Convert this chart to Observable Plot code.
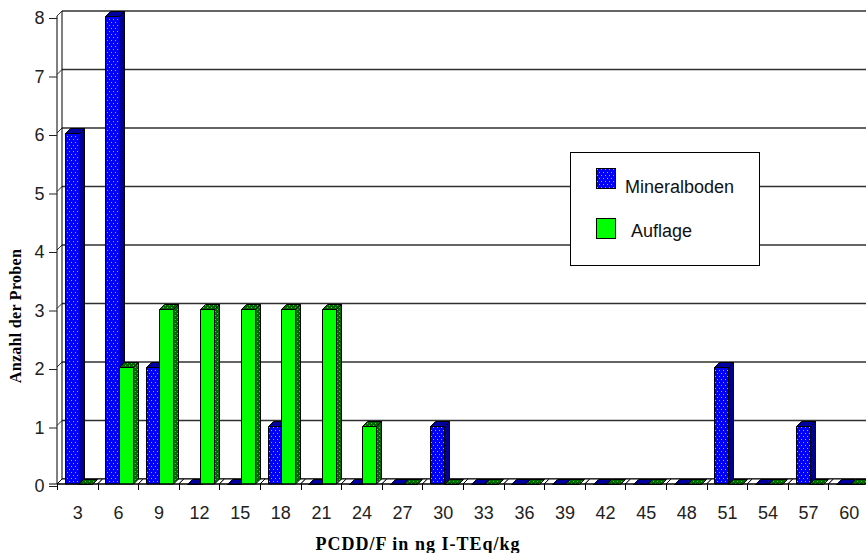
<!DOCTYPE html>
<html>
<head>
<meta charset="utf-8">
<script src="https://cdn.jsdelivr.net/npm/d3@7"></script>
<script src="https://cdn.jsdelivr.net/npm/@observablehq/plot@0.6"></script>
<style>
  html, body { margin: 0; padding: 0; background: #fff; }
</style>
</head>
<body>
<div id="chart"></div>
<script>
// PCDD/F concentration classes (upper bound, ng I-TEq/kg)
const categories = [3, 6, 9, 12, 15, 18, 21, 24, 27, 30, 33, 36, 39, 42, 45, 48, 51, 54, 57, 60];
// Number of samples per class
const mineralboden = [6, 8, 2, 0, 0, 1, 0, 0, 0, 1, 0, 0, 0, 0, 0, 0, 2, 0, 1, 0];
const auflage      = [0, 2, 3, 3, 3, 3, 3, 1, 0, 0, 0, 0, 0, 0, 0, 0, 0, 0, 0, 0];
const seriesNames = ["Mineralboden", "Auflage"];
const yTicks = [0, 1, 2, 3, 4, 5, 6, 7, 8];
const xTitle = "PCDD/F in ng I-TEq/kg";
const yTitle = "Anzahl der Proben";

const rows = categories.flatMap((c, i) => [
  {cat: c, series: 0, value: mineralboden[i]},
  {cat: c, series: 1, value: auflage[i]}
]);

const W = 866, H = 553;
const DEPTH = 5;                 // 3D offset of the back wall (px, right and up)
const sansFont = "'Liberation Sans', Arial, sans-serif";
const serifFont = "'Liberation Serif', 'Times New Roman', serif";

// faces: [front, side, top] per series
const faces = [
  ["url(#pBlueFront)", "url(#pBlueSide)", "#0000a0"],
  ["#00ff00", "url(#pGreenSide)", "url(#pGreenSide)"]
];

function addPattern(defs, id, w, h, base, dot, dots) {
  const p = defs.append("pattern").attr("id", id)
    .attr("patternUnits", "userSpaceOnUse").attr("width", w).attr("height", h);
  p.append("rect").attr("width", w).attr("height", h).attr("fill", base);
  for (const [dx, dy] of dots) p.append("rect").attr("x", dx).attr("y", dy)
    .attr("width", 1).attr("height", 1).attr("fill", dot);
}

// Pseudo-3D column chart drawn from Plot's x (band) and y (linear) scales
function bars3d(index, scales) {
  const x = scales.x, y = scales.y;
  const bw = typeof x.bandwidth === "function" ? x.bandwidth() : x(categories[1]) - x(categories[0]);
  const left = x(categories[0]);
  const y0 = y(0);
  const yTop = y(d3.max(yTicks));
  const g = d3.create("svg:g").attr("text-anchor", "start");
  const defs = g.append("defs");
  addPattern(defs, "pBlueFront", 4, 6, "#0000ff", "#30e0ff", [[1, 1], [3, 4]]);
  addPattern(defs, "pBlueSide", 4, 6, "#000098", "#000030", [[1, 1], [3, 4]]);
  addPattern(defs, "pGreenSide", 4, 4, "#006a00", "#8aa040", [[1, 1], [3, 3]]);

  const line = (x1, y1, x2, y2, stroke = "#000", sw = 1) =>
    g.append("line").attr("x1", x1).attr("y1", y1).attr("x2", x2).attr("y2", y2)
      .attr("stroke", stroke).attr("stroke-width", sw);
  const poly = (pts, fill) => g.append("polygon")
    .attr("points", pts.map(p => p.join(",")).join(" "))
    .attr("fill", fill).attr("stroke", "#000").attr("stroke-width", 1)
    .attr("stroke-linejoin", "miter");

  // back wall gridlines and side wall
  for (const v of yTicks) {
    const yy = y(v) - DEPTH;
    line(left + DEPTH, yy, W, yy, "#303030", 1.4);
    line(left, y(v), left + DEPTH, yy, "#303030", 1);
  }
  line(left + DEPTH, yTop - DEPTH, left + DEPTH, y0 - DEPTH);
  line(left, yTop, left, y0);

  // floor, one piece per class
  for (const c of categories) {
    const b = x(c);
    poly([[b, y0], [b + bw, y0], [b + bw + DEPTH, y0 - DEPTH], [b + DEPTH, y0 - DEPTH]], "#fff");
  }

  // columns: front, right side and top faces
  const off = [0.19 * bw, 0.52 * bw], bwid = 0.335 * bw;
  for (const r of rows) {
    const x0 = Math.round(x(r.cat) + off[r.series]) + 0.5;
    const x1 = x0 + Math.round(bwid);
    const yv = Math.round(y(r.value)) + 0.5;
    const [front, side, top] = faces[r.series];
    if (r.value > 0) {
      poly([[x1, yv], [x1 + DEPTH, yv - DEPTH], [x1 + DEPTH, y0 - DEPTH], [x1, y0]], side);
      poly([[x0, yv], [x1, yv], [x1, y0], [x0, y0]], front);
    }
    poly([[x0, yv], [x1, yv], [x1 + DEPTH, yv - DEPTH], [x0 + DEPTH, yv - DEPTH]], top);
  }

  // x axis baseline and class boundary ticks
  line(left - 8, y0, W, y0);
  for (let i = 0; i <= categories.length; i++) {
    const xb = Math.round(left + i * bw) + 0.5;
    line(xb, y0, xb, y0 + 6);
  }

  // legend
  const lg = g.append("g");
  lg.append("rect").attr("x", 570.5).attr("y", 152.5).attr("width", 189).attr("height", 113)
    .attr("fill", "#fff").attr("stroke", "#000");
  const swatch = [faces[0][0], faces[1][0]];
  const ly = [168, 218], tx = [625, 631], ty = [193, 237];
  seriesNames.forEach((name, i) => {
    lg.append("rect").attr("x", 596.5).attr("y", ly[i] + 0.5).attr("width", 19).attr("height", 20)
      .attr("fill", swatch[i]).attr("stroke", "#000");
    lg.append("text").attr("x", tx[i]).attr("y", ty[i]).attr("fill", "#111")
      .attr("text-anchor", "start")
      .attr("font-family", sansFont).attr("font-size", 18).text(name);
  });

  // axis titles
  g.append("text").attr("x", 418).attr("y", 550).attr("text-anchor", "middle")
    .attr("font-family", serifFont).attr("font-weight", "bold").attr("font-size", 18)
    .attr("letter-spacing", 1).attr("fill", "#000").text(xTitle);
  g.append("text").attr("transform", "translate(21,316) rotate(-90)").attr("text-anchor", "middle")
    .attr("font-family", serifFont).attr("font-weight", "bold").attr("font-size", 16)
    .attr("letter-spacing", 0.3).attr("fill", "#000").text(yTitle);
  return g.node();
}

const chart = Plot.plot({
  width: W,
  height: H,
  marginLeft: 57,
  marginRight: 0,
  marginTop: 16,
  marginBottom: 69,
  style: {fontFamily: sansFont, background: "#fff", color: "#000", overflow: "hidden"},
  x: {type: "band", domain: categories, range: [57, 869], padding: 0, round: false},
  y: {domain: [0, 8], range: [484, 16]},
  marks: [
    bars3d,
    Plot.axisY(yTicks, {anchor: "left", tickSize: 8, tickPadding: 5, tickFormat: d => String(d), fontSize: 18, dy: 2, label: null, color: "#222"}),
    Plot.axisX(categories, {anchor: "bottom", tickSize: 0, tickPadding: 22, fontSize: 18, label: null, color: "#222"})
  ]
});
document.getElementById("chart").appendChild(chart);
</script>
</body>
</html>
